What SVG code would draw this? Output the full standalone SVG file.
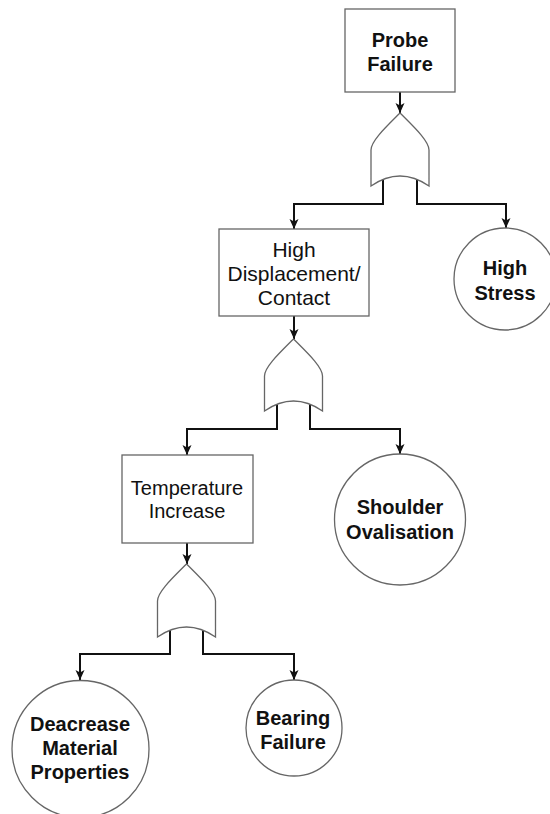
<svg xmlns="http://www.w3.org/2000/svg" width="550" height="814" viewBox="0 0 550 814">
<style>
.box{fill:#fff;stroke:#666;stroke-width:1.3}
.gate{fill:#fff;stroke:#666;stroke-width:1.3}
.conn{fill:none;stroke:#111;stroke-width:2}
.t{font-family:"Liberation Sans",Arial,sans-serif;text-anchor:middle;fill:#111}
.b{font-weight:bold;font-size:20px}
.n{font-size:20px}
</style>
<defs>
<marker id="arr" markerUnits="userSpaceOnUse" markerWidth="11" markerHeight="10" refX="10" refY="4.5" orient="auto">
<path d="M0,0 L10,4.5 L0,9 L2.5,4.5 Z" fill="#111"/>
</marker>
</defs>
<rect width="550" height="814" fill="#fff"/>
<g id="connectors">
<path class="conn" d="M400,92 V113" marker-end="url(#arr)"/>
<path class="conn" d="M383,178 V204 H294 V229" marker-end="url(#arr)"/>
<path class="conn" d="M417,178 V204 H506 V228" marker-end="url(#arr)"/>
<path class="conn" d="M294,316 V339" marker-end="url(#arr)"/>
<path class="conn" d="M277,404 V429 H187 V455" marker-end="url(#arr)"/>
<path class="conn" d="M310,404 V429 H400 V454" marker-end="url(#arr)"/>
<path class="conn" d="M187,543 V564" marker-end="url(#arr)"/>
<path class="conn" d="M170,629 V654 H80 V680" marker-end="url(#arr)"/>
<path class="conn" d="M203,629 V654 H294 V680" marker-end="url(#arr)"/>
</g>
<g id="probe-failure">
<rect class="box" x="345" y="9" width="110" height="83"/>
<text class="t b" x="400" y="47">Probe</text>
<text class="t b" x="400" y="71">Failure</text>
</g>
<g id="or-gate-1">
<path class="gate" d="M400,113 C386,127 371,141 371,150 L371,186 Q400,166 429,186 L429,150 C429,141 414,127 400,113 Z"/>
</g>
<g id="high-displacement">
<rect class="box" x="219" y="229" width="150" height="87"/>
<text class="t" font-size="21" x="294" y="257">High</text>
<text class="t" font-size="21" x="294" y="281">Displacement/</text>
<text class="t" font-size="21" x="294" y="305">Contact</text>
</g>
<g id="high-stress">
<circle class="box" cx="505" cy="279" r="51"/>
<text class="t b" x="505" y="275">High</text>
<text class="t b" x="505" y="300">Stress</text>
</g>
<g id="or-gate-2">
<path class="gate" d="M293.5,339 C279.5,353 264.5,367 264.5,376 L264.5,411 Q293.5,391 322.5,411 L322.5,376 C322.5,367 307.5,353 293.5,339 Z"/>
</g>
<g id="temperature-increase">
<rect class="box" x="122" y="455" width="131" height="88"/>
<text class="t n" x="187" y="495">Temperature</text>
<text class="t n" x="187" y="518">Increase</text>
</g>
<g id="shoulder-ovalisation">
<circle class="box" cx="400" cy="519.5" r="65.5"/>
<text class="t b" x="400" y="514">Shoulder</text>
<text class="t b" x="400" y="539">Ovalisation</text>
</g>
<g id="or-gate-3">
<path class="gate" d="M186.5,564 C172.5,578 157.5,592 157.5,601 L157.5,637 Q186.5,617 215.5,637 L215.5,601 C215.5,592 200.5,578 186.5,564 Z"/>
</g>
<g id="decrease-material-properties">
<circle class="box" cx="80.5" cy="749" r="68.5"/>
<text class="t b" x="80" y="731">Deacrease</text>
<text class="t b" x="80" y="755">Material</text>
<text class="t b" x="80" y="779">Properties</text>
</g>
<g id="bearing-failure">
<circle class="box" cx="294" cy="728" r="48"/>
<text class="t b" x="293" y="725">Bearing</text>
<text class="t b" x="293" y="749">Failure</text>
</g>
</svg>
